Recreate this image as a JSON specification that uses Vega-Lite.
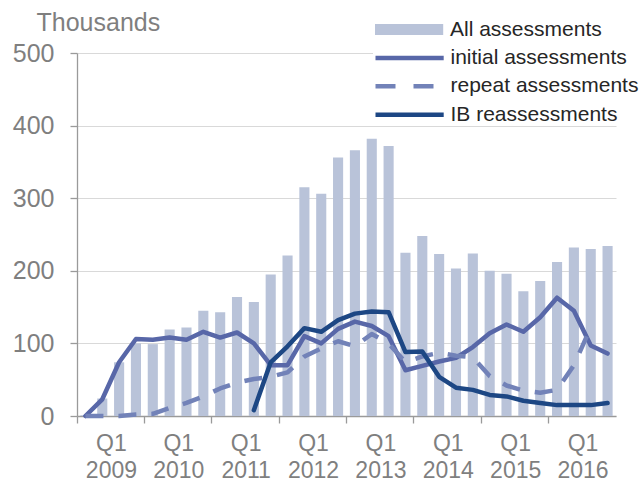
{
  "$schema": "https://vega.github.io/schema/vega-lite/v6.json",
  "width": 539,
  "height": 363,
  "autosize": "none",
  "padding": {"left": 77, "top": 53, "right": 26, "bottom": 67},
  "background": "white",
  "config": {"font": "Liberation Sans", "view": {"stroke": null}},
  "data": {"values": [
    {"q": "Q1 2009", "all": 1, "initial": 0, "repeat": 0, "ib": null},
    {"q": "Q2 2009", "all": 24, "initial": 23, "repeat": 0, "ib": null},
    {"q": "Q3 2009", "all": 74, "initial": 74, "repeat": 0, "ib": null},
    {"q": "Q4 2009", "all": 100, "initial": 106, "repeat": 2, "ib": null},
    {"q": "Q1 2010", "all": 99, "initial": 105, "repeat": 3, "ib": null},
    {"q": "Q2 2010", "all": 119, "initial": 108, "repeat": 11, "ib": null},
    {"q": "Q3 2010", "all": 122, "initial": 105, "repeat": 18, "ib": null},
    {"q": "Q4 2010", "all": 145, "initial": 116, "repeat": 27, "ib": null},
    {"q": "Q1 2011", "all": 143, "initial": 108, "repeat": 38, "ib": null},
    {"q": "Q2 2011", "all": 164, "initial": 115, "repeat": 46, "ib": null},
    {"q": "Q3 2011", "all": 157, "initial": 100, "repeat": 51, "ib": 8},
    {"q": "Q4 2011", "all": 195, "initial": 70, "repeat": 54, "ib": 74},
    {"q": "Q1 2012", "all": 221, "initial": 70, "repeat": 60, "ib": 96},
    {"q": "Q2 2012", "all": 315, "initial": 110, "repeat": 82, "ib": 121},
    {"q": "Q3 2012", "all": 306, "initial": 100, "repeat": 93, "ib": 116},
    {"q": "Q4 2012", "all": 356, "initial": 120, "repeat": 103, "ib": 132},
    {"q": "Q1 2013", "all": 366, "initial": 130, "repeat": 96, "ib": 141},
    {"q": "Q2 2013", "all": 382, "initial": 124, "repeat": 113, "ib": 144},
    {"q": "Q3 2013", "all": 372, "initial": 110, "repeat": 100, "ib": 143},
    {"q": "Q4 2013", "all": 225, "initial": 63, "repeat": 74, "ib": 88},
    {"q": "Q1 2014", "all": 248, "initial": 69, "repeat": 82, "ib": 89},
    {"q": "Q2 2014", "all": 223, "initial": 75, "repeat": 87, "ib": 54},
    {"q": "Q3 2014", "all": 203, "initial": 80, "repeat": 83, "ib": 39},
    {"q": "Q4 2014", "all": 224, "initial": 95, "repeat": 81, "ib": 36},
    {"q": "Q1 2015", "all": 200, "initial": 114, "repeat": 55, "ib": 29},
    {"q": "Q2 2015", "all": 196, "initial": 126, "repeat": 42, "ib": 27},
    {"q": "Q3 2015", "all": 172, "initial": 116, "repeat": 35, "ib": 21},
    {"q": "Q4 2015", "all": 186, "initial": 136, "repeat": 32, "ib": 18},
    {"q": "Q1 2016", "all": 212, "initial": 163, "repeat": 36, "ib": 15},
    {"q": "Q2 2016", "all": 232, "initial": 145, "repeat": 70, "ib": 15},
    {"q": "Q3 2016", "all": 230, "initial": 97, "repeat": 122, "ib": 15},
    {"q": "Q4 2016", "all": 234, "initial": 86, "repeat": null, "ib": 18}
  ]},
  "encoding": {
    "x": {
      "field": "q", "type": "ordinal", "sort": null,
      "scale": {"paddingInner": 0, "paddingOuter": 0},
      "axis": {
        "title": null,
        "values": ["Q1 2009", "Q1 2010", "Q1 2011", "Q1 2012", "Q1 2013", "Q1 2014", "Q1 2015", "Q1 2016"],
        "bandPosition": 0,
        "labelExpr": "split(datum.label, ' ')",
        "labelAngle": 0,
        "labelAlign": "center",
        "labelBaseline": "top",
        "labelOffset": 26,
        "labelFontSize": 23,
        "labelLineHeight": 27,
        "labelColor": "#7f7f7f",
        "labelPadding": 9,
        "tickSize": 7,
        "tickWidth": 1.3,
        "tickColor": "#9a9a9a",
        "domainColor": "#9a9a9a",
        "domainWidth": 1.3,
        "grid": false
      }
    }
  },
  "layer": [
    {
      "mark": {"type": "bar", "width": {"band": 0.6}},
      "encoding": {
        "y": {
          "field": "all", "type": "quantitative",
          "scale": {"domain": [0, 500], "nice": false},
          "axis": {
            "title": "Thousands",
            "titleAngle": 0,
            "titleAlign": "left",
            "titleBaseline": "alphabetic",
            "titleX": -41,
            "titleY": -23,
            "titleFontSize": 25,
            "titleFontWeight": "normal",
            "titleColor": "#7f7f7f",
            "values": [0, 100, 200, 300, 400, 500],
            "labelFontSize": 25,
            "labelColor": "#7f7f7f",
            "labelPadding": 16,
            "tickSize": 7,
            "tickWidth": 1.3,
            "tickColor": "#9a9a9a",
            "domainColor": "#9a9a9a",
            "domainWidth": 1.3,
            "grid": true,
            "gridColor": "#d9d9d9",
            "gridWidth": 1.2
          }
        },
        "fill": {
          "datum": "All assessments",
          "scale": {"domain": ["All assessments"], "range": ["#b9c3d9"]},
          "legend": {
            "title": null,
            "orient": "none",
            "legendX": 298,
            "legendY": -34.5,
            "direction": "vertical",
            "padding": 0,
            "fillColor": "white",
            "symbolType": "M-1,-0.5H5.2V0.5H-1Z",
            "symbolSize": 484,
            "symbolStrokeWidth": 0,
            "labelFontSize": 21,
            "labelLimit": 400,
            "labelColor": "#262626",
            "labelOffset": 53
          }
        }
      }
    },
    {
      "mark": {"type": "line", "strokeWidth": 4.5, "strokeJoin": "round", "strokeCap": "round"},
      "encoding": {
        "y": {"field": "initial", "type": "quantitative"},
        "stroke": {
          "datum": "initial assessments",
          "scale": {
            "domain": ["initial assessments", "repeat assessments", "IB reassessments"],
            "range": ["#5867a8", "#7282b8", "#1d4784"]
          },
          "legend": {
            "title": null,
            "orient": "none",
            "legendX": 296,
            "legendY": -8.6,
            "direction": "vertical",
            "padding": 0,
            "fillColor": "white",
            "symbolType": "M-1,0H5.2",
            "symbolSize": 484,
            "symbolStrokeWidth": 4.5,
            "labelFontSize": 21,
            "labelLimit": 400,
            "labelColor": "#262626",
            "labelOffset": 50.5,
            "rowPadding": 4.4,
            "encode": {
              "symbols": {
                "update": {
                  "fill": {"value": "transparent"},
                  "strokeDash": {"signal": "datum.value === 'repeat assessments' ? [20, 18] : [100, 0]"}
                }
              }
            }
          }
        }
      }
    },
    {
      "mark": {"type": "line", "strokeWidth": 4.5, "strokeJoin": "round", "strokeDash": [18, 15]},
      "encoding": {
        "y": {"field": "repeat", "type": "quantitative"},
        "stroke": {"datum": "repeat assessments"}
      }
    },
    {
      "mark": {"type": "line", "strokeWidth": 4.5, "strokeJoin": "round", "strokeCap": "round"},
      "encoding": {
        "y": {"field": "ib", "type": "quantitative"},
        "stroke": {"datum": "IB reassessments"}
      }
    }
  ]
}
